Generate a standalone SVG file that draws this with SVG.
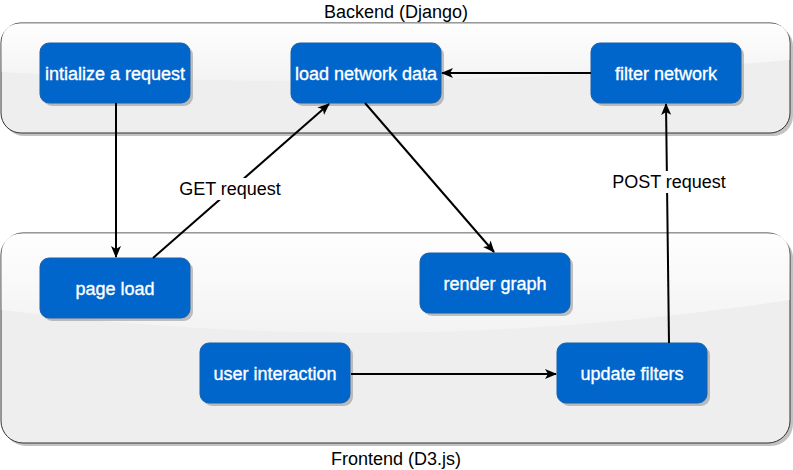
<svg xmlns="http://www.w3.org/2000/svg" width="793" height="470" viewBox="0 0 793 470">
<style>
.cont{fill:#eeeeee;stroke:#333333;stroke-width:1}
.cshadow{fill:#9a9a9a;opacity:0.6}
.node{fill:#0066cc;stroke:#1a5fa8;stroke-width:1}
.nshadow{fill:#7a7a7a;opacity:0.45}
.ntext{font-family:"Liberation Sans",Arial,sans-serif;font-size:18px;fill:#ffffff;text-anchor:middle;stroke:#ffffff;stroke-width:0.35}
.title{font-family:"Liberation Sans",Arial,sans-serif;font-size:18px;fill:#000000;text-anchor:middle}
.edge{fill:none;stroke:#000000;stroke-width:2}
.elabel{font-family:"Liberation Sans",Arial,sans-serif;font-size:18px;fill:#000000;text-anchor:middle}
</style>
<defs>
<linearGradient id="glass" x1="0" y1="0" x2="0" y2="1">
<stop offset="0" stop-color="#ffffff" stop-opacity="0.95"/>
<stop offset="1" stop-color="#ffffff" stop-opacity="0.3"/>
</linearGradient>
<marker id="arr" viewBox="0 0 12 10" refX="11" refY="5" markerWidth="12" markerHeight="10" markerUnits="userSpaceOnUse" orient="auto">
<path d="M0,0 L12,5 L0,10 L3,5 Z" fill="#000000"/>
</marker>
</defs>

<g id="backend">
<rect class="cshadow" x="4" y="26" width="789" height="110" rx="20"/>
<rect class="cont" x="1" y="23" width="789" height="110" rx="20"/>
<path d="M21,23.5 L770,23.5 Q789.5,23.5 789.5,43 L789.5,60 Q400,95 1.5,72 L1.5,43 Q1.5,23.5 21,23.5 Z" fill="url(#glass)"/>
<text class="title" x="396" y="18">Backend (Django)</text>
</g>

<g id="frontend">
<rect class="cshadow" x="4" y="236" width="789" height="210" rx="22"/>
<rect class="cont" x="1" y="233" width="789" height="210" rx="22"/>
<path d="M23,233.5 L768,233.5 Q789.5,233.5 789.5,255 L789.5,300 Q400,360 1.5,310 L1.5,255 Q1.5,233.5 23,233.5 Z" fill="url(#glass)"/>
<text class="title" x="396" y="465">Frontend (D3.js)</text>
</g>

<g id="n-init">
<rect class="nshadow" x="43" y="46" width="150" height="60" rx="9"/>
<rect class="node" x="40" y="43" width="150" height="60" rx="9"/>
<text class="ntext" x="115" y="79.5">intialize a request</text>
</g>

<g id="n-load">
<rect class="nshadow" x="294" y="46" width="150" height="60" rx="9"/>
<rect class="node" x="291" y="43" width="150" height="60" rx="9"/>
<text class="ntext" x="366" y="79.5">load network data</text>
</g>

<g id="n-filter">
<rect class="nshadow" x="594" y="46" width="150" height="60" rx="9"/>
<rect class="node" x="591" y="43" width="150" height="60" rx="9"/>
<text class="ntext" x="666" y="79.5">filter network</text>
</g>

<g id="n-page">
<rect class="nshadow" x="43" y="261" width="150" height="60" rx="9"/>
<rect class="node" x="40" y="258" width="150" height="60" rx="9"/>
<text class="ntext" x="115" y="294.5">page load</text>
</g>

<g id="n-render">
<rect class="nshadow" x="423" y="256" width="150" height="60" rx="9"/>
<rect class="node" x="420" y="253" width="150" height="60" rx="9"/>
<text class="ntext" x="495" y="289.5">render graph</text>
</g>

<g id="n-user">
<rect class="nshadow" x="203" y="346" width="150" height="60" rx="9"/>
<rect class="node" x="200" y="343" width="150" height="60" rx="9"/>
<text class="ntext" x="275" y="379.5">user interaction</text>
</g>

<g id="n-update">
<rect class="nshadow" x="560" y="346" width="150" height="60" rx="9"/>
<rect class="node" x="557" y="343" width="150" height="60" rx="9"/>
<text class="ntext" x="632" y="379.5">update filters</text>
</g>

<g id="connectors">
<path class="edge" d="M116,103 L116,257" marker-end="url(#arr)"/>
<path class="edge" d="M153,258 L329,104" marker-end="url(#arr)"/>
<path class="edge" d="M365,103 L494,252" marker-end="url(#arr)"/>
<path class="edge" d="M591,73 L442,73" marker-end="url(#arr)"/>
<path class="edge" d="M351,374 L556,374" marker-end="url(#arr)"/>
<path class="edge" d="M669,343 L666,104" marker-end="url(#arr)"/>
<rect x="176" y="178" width="108" height="22" fill="#ffffff"/>
<text class="elabel" x="230" y="195">GET request</text>
<rect x="609" y="171" width="120" height="22" fill="#ffffff"/>
<text class="elabel" x="669" y="188">POST request</text>
</g>
</svg>
